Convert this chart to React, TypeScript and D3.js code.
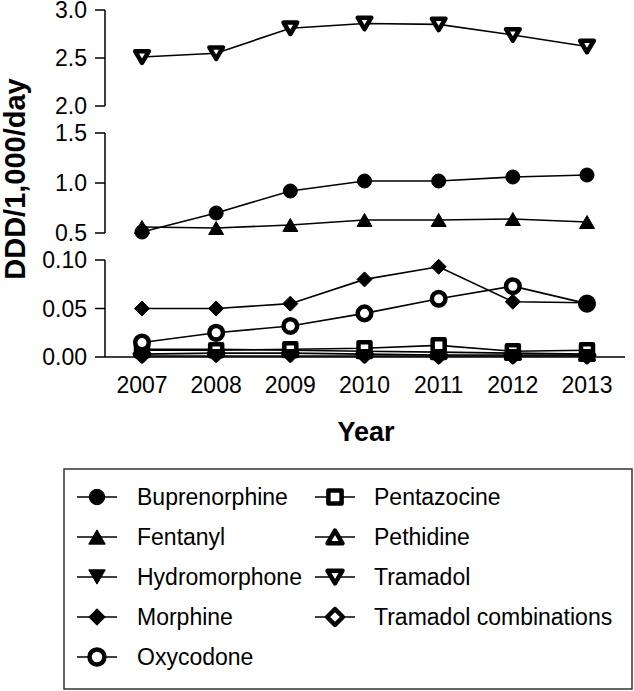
import React from "react";
import * as d3 from "d3";

const years = [2007, 2008, 2009, 2010, 2011, 2012, 2013];

const buprenorphine = [0.51, 0.7, 0.92, 1.02, 1.02, 1.06, 1.08];
const fentanyl = [0.56, 0.55, 0.58, 0.63, 0.63, 0.64, 0.61];
const hydromorphone = [0.001, 0.001, 0.001, 0.001, 0.001, 0.001, 0.001];
const morphine = [0.05, 0.05, 0.055, 0.08, 0.093, 0.057, 0.056];
const oxycodone = [0.015, 0.025, 0.032, 0.045, 0.06, 0.073, 0.055];
const pentazocine = [0.007, 0.007, 0.008, 0.009, 0.012, 0.006, 0.007];
const pethidine = [0.008, 0.008, 0.007, 0.006, 0.005, 0.004, 0.003];
const tramadol = [2.51, 2.55, 2.81, 2.86, 2.85, 2.74, 2.62];
const tramadolCombinations = [0.003, 0.004, 0.004, 0.003, 0.002, 0.002, 0.002];

const topTicks = [2.0, 2.5, 3.0];
const midTicks = [0.5, 1.0, 1.5];
const lowTicks = [0.0, 0.05, 0.1];

type Shape = "circle" | "triUp" | "triDown" | "diamond" | "square";

const series: { name: string; values: number[]; shape: Shape; open: boolean; panel: number }[] = [
  { name: "Buprenorphine", values: buprenorphine, shape: "circle", open: false, panel: 1 },
  { name: "Fentanyl", values: fentanyl, shape: "triUp", open: false, panel: 1 },
  { name: "Hydromorphone", values: hydromorphone, shape: "triDown", open: false, panel: 2 },
  { name: "Morphine", values: morphine, shape: "diamond", open: false, panel: 2 },
  { name: "Oxycodone", values: oxycodone, shape: "circle", open: true, panel: 2 },
  { name: "Pentazocine", values: pentazocine, shape: "square", open: true, panel: 2 },
  { name: "Pethidine", values: pethidine, shape: "triUp", open: true, panel: 2 },
  { name: "Tramadol", values: tramadol, shape: "triDown", open: true, panel: 0 },
  { name: "Tramadol combinations", values: tramadolCombinations, shape: "diamond", open: true, panel: 2 },
];

const FONT = "Liberation Sans, Arial, sans-serif";

function symbolPath(shape: Shape, open: boolean, k: number): string {
  if (shape === "circle") {
    const r = (open ? 6.8 : 7) * k;
    return d3.symbol().type(d3.symbolCircle).size(Math.PI * r * r)() as string;
  }
  if (shape === "square") {
    const h = (open ? 6 : 7) * k;
    return `M${-h},${-h}H${h}V${h}H${-h}Z`;
  }
  if (shape === "diamond") {
    const h = (open ? 7.2 : 7.5) * k;
    return `M0,${-h}L${h},0L0,${h}L${-h},0Z`;
  }
  const w = (open ? 6.8 : 7.5) * k;
  const ht = (open ? 11.5 : 13) * k;
  if (shape === "triUp") {
    return `M0,${-ht / 2}L${w},${ht / 2}L${-w},${ht / 2}Z`;
  }
  return `M0,${ht / 2}L${w},${-ht / 2}L${-w},${-ht / 2}Z`;
}

function Marker({ x, y, shape, open, k = 1 }: { x: number; y: number; shape: Shape; open: boolean; k?: number }) {
  return (
    <path
      d={symbolPath(shape, open, k)}
      transform={`translate(${x},${y})`}
      fill={open ? "#fff" : "#000"}
      stroke="#000"
      strokeWidth={open ? 4.5 : 1}
      strokeLinejoin="round"
    />
  );
}

export default function App() {
  const W = 634;
  const H = 691;
  const x = d3.scalePoint<number>().domain(years).range([142, 587]);
  const yScales = [
    d3.scaleLinear().domain([2, 3]).range([106, 10]),
    d3.scaleLinear().domain([0.5, 1.5]).range([233, 133]),
    d3.scaleLinear().domain([0, 0.1]).range([357, 260]),
  ];
  const tickSets = [topTicks, midTicks, lowTicks];
  const fmts = [d3.format(".1f"), d3.format(".1f"), d3.format(".2f")];
  const axisX = 105;
  const baseY = 357;

  const drawOrder = [
    "Tramadol combinations",
    "Pethidine",
    "Pentazocine",
    "Hydromorphone",
    "Oxycodone",
    "Morphine",
    "Fentanyl",
    "Buprenorphine",
    "Tramadol",
  ];
  const ordered = drawOrder.map((n) => series.find((s) => s.name === n)!);

  const legendCol1 = series.slice(0, 5);
  const legendCol2 = series.slice(5);
  const legendRowY = (i: number) => 497 + i * 40;

  return (
    <svg
      width={W}
      height={H}
      style={{ position: "absolute", left: 0, top: 0, background: "#fff" }}
      fontFamily={FONT}
    >
      {/* y axes */}
      {yScales.map((ys, pi) => {
        const ticks = tickSets[pi];
        const r = ys.range();
        return (
          <g key={pi}>
            <line x1={axisX} x2={axisX} y1={r[1]} y2={r[0]} stroke="#000" strokeWidth={1.5} />
            {ticks.map((t) => (
              <g key={t}>
                <line x1={axisX - 10} x2={axisX} y1={ys(t)} y2={ys(t)} stroke="#000" strokeWidth={1.5} />
                <text x={87} y={ys(t)} dy="0.35em" textAnchor="end" fontSize={23} fill="#000">
                  {fmts[pi](t)}
                </text>
              </g>
            ))}
          </g>
        );
      })}

      {/* x axis */}
      <line x1={axisX} x2={625} y1={baseY} y2={baseY} stroke="#000" strokeWidth={1.5} />
      {years.map((yr) => (
        <text key={yr} x={x(yr)} y={393} textAnchor="middle" fontSize={23} fill="#000">
          {yr}
        </text>
      ))}

      {/* axis titles */}
      <text x={366} y={441} textAnchor="middle" fontSize={27} fontWeight="bold" fill="#000">
        Year
      </text>
      <text
        transform={`translate(25,179) rotate(-90)`}
        textAnchor="middle"
        fontSize={29}
        fontWeight="bold"
        fill="#000"
      >
        DDD/1,000/day
      </text>

      {/* series */}
      {ordered.map((s) => {
        const ys = yScales[s.panel];
        const line = d3
          .line<number>()
          .x((_, i) => x(years[i])!)
          .y((v) => ys(v));
        return (
          <g key={s.name}>
            <path d={line(s.values) as string} fill="none" stroke="#000" strokeWidth={1.6} />
            {s.values.map((v, i) => (
              <Marker key={i} x={x(years[i])!} y={ys(v)} shape={s.shape} open={s.open} />
            ))}
          </g>
        );
      })}

      {/* legend */}
      <rect x={64} y={469} width={568} height={220} fill="none" stroke="#333" strokeWidth={1.5} />
      {legendCol1.map((s, i) => (
        <g key={s.name}>
          <line x1={77} x2={117} y1={legendRowY(i)} y2={legendRowY(i)} stroke="#000" strokeWidth={1.6} />
          <Marker x={97} y={legendRowY(i)} shape={s.shape} open={s.open} k={1.1} />
          <text x={137} y={legendRowY(i)} dy="0.35em" fontSize={23} fill="#000">
            {s.name}
          </text>
        </g>
      ))}
      {legendCol2.map((s, i) => (
        <g key={s.name}>
          <line x1={315} x2={355} y1={legendRowY(i)} y2={legendRowY(i)} stroke="#000" strokeWidth={1.6} />
          <Marker x={335} y={legendRowY(i)} shape={s.shape} open={s.open} k={1.1} />
          <text x={374} y={legendRowY(i)} dy="0.35em" fontSize={23} fill="#000">
            {s.name}
          </text>
        </g>
      ))}
    </svg>
  );
}
